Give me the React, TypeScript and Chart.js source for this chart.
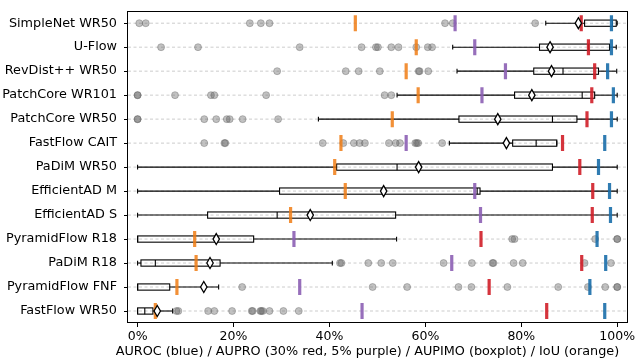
import { useEffect, useRef } from 'react';
import { Chart, registerables } from 'chart.js';

Chart.register(...registerables);

const models = [
  'SimpleNet WR50', 'U-Flow', 'RevDist++ WR50', 'PatchCore WR101', 'PatchCore WR50',
  'FastFlow CAIT', 'PaDiM WR50', 'EfficientAD M', 'EfficientAD S', 'PyramidFlow R18',
  'PaDiM R18', 'PyramidFlow FNF', 'FastFlow WR50',
];

// AUROC (blue)
const auroc = [98.8, 98.8, 98.0, 99.2, 98.8, 97.4, 96.1, 98.4, 98.6, 95.8, 97.6, 94.3, 97.4];
// AUPRO 30% (red)
const aupro30 = [92.5, 94.0, 95.3, 94.7, 93.7, 88.6, 92.2, 94.9, 94.8, 71.6, 92.6, 73.3, 85.3];
// AUPRO 5% (purple)
const aupro5: (number | null)[] = [66.2, 70.3, 76.7, 71.8, null, 56.0, null, 70.3, 71.5, 32.6, 65.5, 33.8, 46.8];
// IoU (orange)
const iou = [45.4, 58.1, 56.0, 58.5, 53.1, 42.4, 41.1, 43.3, 31.9, 11.9, 12.2, 8.2, 3.7];

// AUPIMO boxplot statistics
const whiskerLo = [85.1, 65.7, 66.6, 54.1, 37.7, 65.0, 0, 0, 0, 0, 0, 0, 0];
const q1 = [93.2, 83.8, 82.6, 78.6, 67.0, 78.2, 41.5, 29.6, 14.6, 0, 0.7, 0, 0];
const median = [99.0, 94.0, 88.7, 92.7, 86.5, 83.1, 54.1, 70.8, 29.1, 0, 3.7, 0, 1.5];
const q3 = [99.8, 98.4, 96.1, 95.3, 91.6, 87.4, 86.5, 71.4, 53.8, 24.2, 17.2, 6.7, 3.2];
const whiskerHi = [100, 99.8, 99.9, 100, 100, 87.4, 100, 100, 100, 54.0, 40.6, 16.9, 7.3];
const means = [91.9, 86.0, 86.3, 82.2, 75.1, 76.9, 58.6, 51.3, 36.0, 16.4, 15.1, 13.8, 4.1];

const outliers: number[][] = [
  [0.35, 1.7, 23.4, 25.7, 27.5, 64.1, 65.7, 82.9],
  [4.9, 12.6, 33.8, 46.7, 49.7, 50.1, 52.9, 54.4, 58.1, 60.5, 61.4],
  [29.1, 43.4, 46.1, 50.5, 58.6, 58.8, 60.6],
  [0, 0, 7.8, 15.3, 16.0, 26.8, 51.5, 52.9],
  [0, 0, 13.9, 16.4, 18.6, 19.2, 21.9, 29.3],
  [13.9, 18.1, 18.3, 38.6, 42.9, 45.1, 46.3, 47.4, 52.4, 53.8, 54.7, 57.9, 58.2, 58.5, 63.5],
  [],
  [],
  [],
  [78.1, 78.6, 95.4, 100, 100],
  [42.2, 42.5, 48.1, 50.8, 53.2, 63.8, 69.7, 74.0, 74.2, 78.4, 80.3, 93.2, 98.7],
  [21.8, 49.0, 56.2, 66.9, 69.6, 77.1, 87.7, 93.9, 97.5, 100, 100],
  [8.1, 8.5, 14.7, 16.0, 19.7, 23.8, 24.0, 25.6, 25.8, 26.1, 27.5, 30.4, 33.6],
];

const xTicks = [0, 20, 40, 60, 80, 100];
const xLabel = 'AUROC (blue) / AUPRO (30% red, 5% purple) / AUPIMO (boxplot) / IoU (orange)';

const FONT = 'DejaVu Sans';

function toPoints(values: (number | null)[]) {
  const pts: { x: number; y: number }[] = [];
  values.forEach((v, i) => {
    if (v !== null && v !== undefined) pts.push({ x: v, y: i });
  });
  return pts;
}

const boxPlugin = {
  id: 'aupimoBoxes',
  beforeDatasetsDraw(chart: any) {
    const { ctx, chartArea, scales } = chart;
    const x = scales.x;
    const y = scales.y;
    ctx.save();
    // dashed row grid lines
    ctx.strokeStyle = 'rgba(170,170,170,0.75)';
    ctx.lineWidth = 0.8;
    ctx.setLineDash([3, 2.5]);
    models.forEach((_, i) => {
      const py = y.getPixelForValue(i);
      ctx.beginPath();
      ctx.moveTo(chartArea.left, py);
      ctx.lineTo(chartArea.right, py);
      ctx.stroke();
    });
    ctx.setLineDash([]);
    ctx.strokeStyle = '#000';
    ctx.lineWidth = 1.1;
    const bh = Math.abs(y.getPixelForValue(0.13) - y.getPixelForValue(0));
    const ch = Math.abs(y.getPixelForValue(0.1) - y.getPixelForValue(0));
    const line = (x1: number, y1: number, x2: number, y2: number) => {
      ctx.beginPath();
      ctx.moveTo(x1, y1);
      ctx.lineTo(x2, y2);
      ctx.stroke();
    };
    models.forEach((_, i) => {
      const py = y.getPixelForValue(i);
      const px = (v: number) => x.getPixelForValue(v);
      line(px(whiskerLo[i]), py, px(q1[i]), py);
      line(px(q3[i]), py, px(whiskerHi[i]), py);
      line(px(whiskerLo[i]), py - ch, px(whiskerLo[i]), py + ch);
      line(px(whiskerHi[i]), py - ch, px(whiskerHi[i]), py + ch);
      ctx.strokeRect(px(q1[i]), py - bh, px(q3[i]) - px(q1[i]), 2 * bh);
      line(px(median[i]), py - bh, px(median[i]), py + bh);
    });
    ctx.restore();
  },
  afterDatasetsDraw(chart: any) {
    const { ctx, scales } = chart;
    const x = scales.x;
    const y = scales.y;
    ctx.save();
    ctx.fillStyle = '#fff';
    ctx.strokeStyle = '#000';
    ctx.lineWidth = 1.3;
    means.forEach((m, i) => {
      const px = x.getPixelForValue(m);
      const py = y.getPixelForValue(i);
      ctx.beginPath();
      ctx.moveTo(px, py - 5.5);
      ctx.lineTo(px + 3.2, py);
      ctx.lineTo(px, py + 5.5);
      ctx.lineTo(px - 3.2, py);
      ctx.closePath();
      ctx.fill();
      ctx.stroke();
    });
    ctx.restore();
  },
  afterDraw(chart: any) {
    const { ctx, chartArea } = chart;
    ctx.save();
    ctx.strokeStyle = '#000';
    ctx.lineWidth = 1;
    ctx.strokeRect(
      Math.round(chartArea.left) - 0.5,
      Math.round(chartArea.top) + 0.5,
      Math.round(chartArea.right - chartArea.left) + 1,
      Math.round(chartArea.bottom - chartArea.top) - 1,
    );
    // x-axis title (slightly left of the plot centre, as in the reference)
    ctx.fillStyle = '#000';
    ctx.font = `12.8px "${FONT}"`;
    ctx.textAlign = 'center';
    ctx.textBaseline = 'middle';
    ctx.fillText(xLabel, (chartArea.left + chartArea.right) / 2 - 10, chartArea.bottom + 29);
    ctx.restore();
  },
};

function marker(label: string, values: (number | null)[], color: string, order: number) {
  return {
    label,
    data: toPoints(values),
    pointStyle: 'line',
    rotation: 90,
    pointRadius: 8,
    pointBorderWidth: 3.2,
    borderColor: color,
    backgroundColor: color,
    showLine: false,
    order,
  };
}

export default function App() {
  const ref = useRef<HTMLCanvasElement>(null);

  useEffect(() => {
    if (!ref.current) return;
    Chart.defaults.font.family = FONT;
    Chart.defaults.color = '#000';
    const outlierPts: { x: number; y: number }[] = [];
    outliers.forEach((row, i) => row.forEach((v) => outlierPts.push({ x: v, y: i })));

    const chart = new Chart(ref.current, {
      type: 'scatter',
      data: {
        datasets: [
          {
            label: 'outliers',
            data: outlierPts,
            pointRadius: 3.5,
            pointBorderWidth: 0.8,
            backgroundColor: 'rgba(100,100,100,0.4)',
            borderColor: 'rgba(90,90,90,0.45)',
            order: 10,
          } as any,
          marker('IoU', iou, 'rgba(240,125,20,0.85)', 4),
          marker('AUPRO 5%', aupro5, 'rgba(140,95,180,0.9)', 3),
          marker('AUPRO 30%', aupro30, 'rgba(208,30,40,0.9)', 2),
          marker('AUROC', auroc, 'rgba(25,110,170,0.9)', 1),
        ],
      },
      options: {
        animation: false,
        responsive: false,
        events: [],
        layout: { padding: { top: 0, right: 10, bottom: 0, left: 0 } },
        plugins: { legend: { display: false }, tooltip: { enabled: false } },
        scales: {
          x: {
            type: 'linear',
            min: -2,
            max: 102,
            afterBuildTicks: (scale: any) => {
              scale.ticks = xTicks.map((v) => ({ value: v }));
            },
            afterFit: (scale: any) => {
              scale.height = 39;
              scale.paddingLeft = 0;
            },
            ticks: {
              callback: (v: any) => `${v}%`,
              font: { size: 12.5 },
              color: '#000',
              padding: 2,
              maxRotation: 0,
              autoSkip: false,
            },
            grid: {
              drawOnChartArea: false,
              drawTicks: true,
              tickLength: 4,
              tickColor: '#000',
              tickWidth: 1,
            },
            border: { display: false },
            title: { display: false },
          },
          y: {
            type: 'linear',
            reverse: true,
            min: -0.5,
            max: 12.5,
            afterBuildTicks: (scale: any) => {
              scale.ticks = models.map((_, i) => ({ value: i }));
            },
            afterFit: (scale: any) => {
              scale.width = 128;
              scale.paddingTop = 0;
              scale.paddingBottom = 0;
            },
            ticks: {
              callback: (v: any) => models[v as number],
              font: { size: 12.8 },
              color: '#000',
              padding: 7,
              autoSkip: false,
            },
            grid: {
              drawOnChartArea: false,
              drawTicks: true,
              tickLength: 4,
              tickColor: '#000',
              tickWidth: 1,
            },
            border: { display: false },
          },
        },
      },
      plugins: [boxPlugin],
    } as any);
    return () => chart.destroy();
  }, []);

  return (
    <div style={{ position: 'fixed', left: 0, top: 0, width: 638, height: 362, background: '#fff' }}>
      <canvas ref={ref} width={638} height={362} />
    </div>
  );
}
